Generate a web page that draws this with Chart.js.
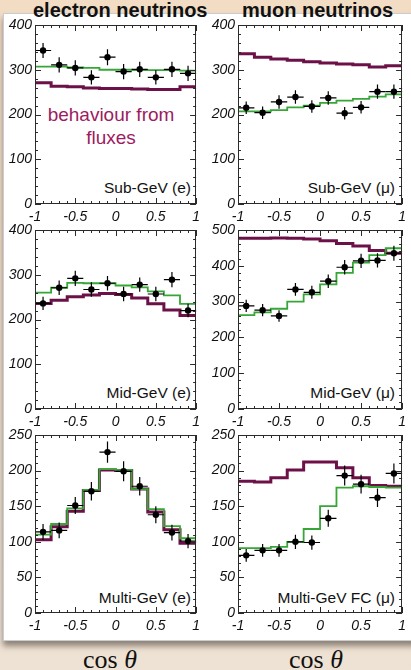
<!DOCTYPE html>
<html><head><meta charset="utf-8">
<script src="https://cdn.jsdelivr.net/npm/chart.js@4.4.1/dist/chart.umd.min.js"></script>
<style>
html,body{margin:0;padding:0;width:411px;height:670px;overflow:hidden;}
body{position:relative;background:linear-gradient(180deg,#f2dcc4 0%,#f1dfcc 60%,#eee2d4 100%);font-family:"Liberation Sans",Arial,sans-serif;}
#card{position:absolute;left:3px;top:13px;width:420px;height:626px;background:#fff;border:1px solid #c8cdd2;box-shadow:0 5px 6px rgba(60,50,40,0.55);}
canvas{position:absolute;}
.t{position:absolute;white-space:nowrap;}
.title{font-weight:bold;font-size:20px;line-height:19px;color:#111;}
.plab{font-size:15.5px;line-height:16px;color:#111;text-align:right;}
.note{font-size:19px;line-height:23px;color:#9c1c5f;text-align:center;width:200px;}
.cos{font-family:"Liberation Serif","DejaVu Serif",serif;font-size:26px;line-height:24px;color:#111;text-align:center;width:100px;}
</style></head>
<body>
<div id="card"></div>
<div class="t title" style="left:33px;top:1px;">electron neutrinos</div>
<div class="t title" style="left:242px;top:1px;">muon neutrinos</div>
<div class="t note" style="left:11px;top:103px;">behaviour from<br>fluxes</div>
<div class="t plab" style="right:220px;top:180px;">Sub-GeV (e)</div>
<div class="t plab" style="right:16px;top:180px;">Sub-GeV (μ)</div>
<div class="t plab" style="right:220px;top:385px;">Mid-GeV (e)</div>
<div class="t plab" style="right:16px;top:385px;">Mid-GeV (μ)</div>
<div class="t plab" style="right:220px;top:590px;">Multi-GeV (e)</div>
<div class="t plab" style="right:16px;top:590px;">Multi-GeV FC (μ)</div>
<div class="t cos" style="left:60px;top:648px;">cos <i>θ</i></div>
<div class="t cos" style="left:266px;top:648px;">cos <i>θ</i></div>
<canvas id="c0"></canvas><canvas id="c1"></canvas><canvas id="c2"></canvas>
<canvas id="c3"></canvas><canvas id="c4"></canvas><canvas id="c5"></canvas>
<script>
// ---- data ----
const cosEdges = [-1, -0.8, -0.6, -0.4, -0.2, 0, 0.2, 0.4, 0.6, 0.8, 1];
const cosCenters = [-0.9, -0.7, -0.5, -0.3, -0.1, 0.1, 0.3, 0.5, 0.7, 0.9];
const xTickValues = [-1, -0.5, 0, 0.5, 1];
const yTicks400 = [0, 100, 200, 300, 400];
const yTicks500 = [0, 100, 200, 300, 400, 500];
const yTicks250 = [0, 50, 100, 150, 200, 250];

const subGeVeData  = [343, 311, 304, 283, 328, 296, 301, 283, 301, 292];
const subGeVeErr   = [17, 17, 17, 16, 18, 17, 17, 16, 17, 17];
const subGeVeOsc   = [307, 307, 305, 304, 300, 300, 299, 299, 299, 298];
const subGeVeFlux  = [271, 263, 262, 259, 258, 258, 257, 256, 256, 262];

const subGeVmuData = [215, 204, 228, 239, 218, 237, 203, 216, 251, 251];
const subGeVmuErr  = [14, 14, 15, 15, 14, 15, 14, 14, 16, 16];
const subGeVmuOsc  = [207, 207, 210, 216, 220, 226, 231, 235, 240, 245];
const subGeVmuFlux = [336, 328, 324, 321, 318, 315, 313, 311, 306, 309];

const midGeVeData  = [236, 271, 292, 267, 281, 257, 278, 257, 289, 220];
const midGeVeErr   = [15, 16, 17, 16, 16, 16, 16, 16, 17, 15];
const midGeVeOsc   = [260, 271, 282, 281, 281, 276, 272, 263, 254, 235];
const midGeVeFlux  = [236, 243, 251, 255, 258, 256, 248, 235, 221, 209];

const midGeVmuData = [288, 276, 260, 334, 326, 357, 396, 414, 415, 435];
const midGeVmuErr  = [17, 17, 16, 18, 18, 19, 20, 20, 20, 21];
const midGeVmuOsc  = [262, 270, 280, 300, 320, 348, 380, 409, 430, 449];
const midGeVmuFlux = [477, 477, 478, 477, 475, 470, 462, 455, 443, 435];

const multiGeVeData  = [114, 116, 151, 171, 226, 199, 178, 138, 113, 101];
const multiGeVeErr   = [11, 11, 12, 13, 15, 14, 13, 12, 11, 10];
const multiGeVeOsc   = [110, 125, 147, 173, 202, 201, 174, 146, 122, 105];
const multiGeVeFlux  = [103, 121, 143, 172, 201, 200, 174, 142, 117, 98];

const multiGeVmuData = [81, 88, 88, 100, 99, 133, 193, 181, 162, 196];
const multiGeVmuErr  = [9, 9, 9, 10, 10, 12, 14, 13, 13, 14];
const multiGeVmuOsc  = [91, 91, 93, 100, 118, 150, 176, 178, 177, 176];
const multiGeVmuFlux = [185, 184, 190, 201, 212, 212, 204, 190, 179, 178];

// ---- layout ----
const cols = [{left:0, width:205, yW:35, padR:5}, {left:205, width:206, yW:33, padR:6}];
const rows = [{top:13, plotTop:25, plotBottom:204}, {top:218, plotTop:230, plotBottom:409}, {top:423, plotTop:435, plotBottom:613}];
const X_AXIS_H = 22;

const panels = [
  {col:0,row:0,data:subGeVeData,err:subGeVeErr,osc:subGeVeOsc,flux:subGeVeFlux,yTicks:yTicks400},
  {col:1,row:0,data:subGeVmuData,err:subGeVmuErr,osc:subGeVmuOsc,flux:subGeVmuFlux,yTicks:yTicks400},
  {col:0,row:1,data:midGeVeData,err:midGeVeErr,osc:midGeVeOsc,flux:midGeVeFlux,yTicks:yTicks400},
  {col:1,row:1,data:midGeVmuData,err:midGeVmuErr,osc:midGeVmuOsc,flux:midGeVmuFlux,yTicks:yTicks500},
  {col:0,row:2,data:multiGeVeData,err:multiGeVeErr,osc:multiGeVeOsc,flux:multiGeVeFlux,yTicks:yTicks250},
  {col:1,row:2,data:multiGeVmuData,err:multiGeVmuErr,osc:multiGeVmuOsc,flux:multiGeVmuFlux,yTicks:yTicks250}
];

const framePlugin = {
  id: 'frameTicks',
  afterDatasetsDraw(chart) {
    const {ctx, chartArea: a, scales: {x, y}} = chart;
    ctx.save();
    chart.data.datasets.forEach(ds => {
      if (!ds.errY) return;
      ctx.strokeStyle = '#000';
      ctx.lineWidth = 1.2;
      ds.data.forEach((p, i) => {
        const px = x.getPixelForValue(p.x), py = y.getPixelForValue(p.y);
        const hw = (cosEdges[i + 1] - cosEdges[i]) / 2;
        ctx.beginPath();
        ctx.moveTo(x.getPixelForValue(p.x - hw), py);
        ctx.lineTo(x.getPixelForValue(p.x + hw), py);
        ctx.moveTo(px, y.getPixelForValue(p.y - ds.errY[i]));
        ctx.lineTo(px, y.getPixelForValue(p.y + ds.errY[i]));
        ctx.stroke();
      });
    });
    ctx.strokeStyle = '#2a2a2a';
    ctx.lineWidth = 1;
    ctx.strokeRect(Math.round(a.left) + 0.5, Math.round(a.top) + 0.5, Math.round(a.right - a.left) - 1, Math.round(a.bottom - a.top) - 1);
    ctx.beginPath();
    const nx = 20;
    for (let i = 0; i <= nx; i++) {
      const v = x.min + (x.max - x.min) * i / nx;
      const px = Math.round(x.getPixelForValue(v)) + 0.5;
      const L = i % 5 === 0 ? 6 : 3;
      ctx.moveTo(px, a.bottom); ctx.lineTo(px, a.bottom - L);
      ctx.moveTo(px, a.top); ctx.lineTo(px, a.top + L);
    }
    const yt = chart.options.plugins.frameTicks.yTicks;
    const step = (yt[1] - yt[0]) / 5;
    const ny = Math.round((y.max - y.min) / step);
    for (let i = 0; i <= ny; i++) {
      const v = y.min + step * i;
      const py = Math.round(y.getPixelForValue(v)) + 0.5;
      const L = i % 5 === 0 ? 6 : 3;
      ctx.moveTo(a.left, py); ctx.lineTo(a.left + L, py);
      ctx.moveTo(a.right, py); ctx.lineTo(a.right - L, py);
    }
    ctx.stroke();
    ctx.restore();
  }
};

const tickFont = {family: '"Liberation Sans", Arial, sans-serif', style: 'italic', size: 14};

panels.forEach((p, idx) => {
  const c = cols[p.col], r = rows[p.row];
  const cv = document.getElementById('c' + idx);
  const h = r.plotBottom - r.top + X_AXIS_H;
  cv.width = c.width; cv.height = h;
  cv.style.left = c.left + 'px'; cv.style.top = r.top + 'px';
  cv.style.width = c.width + 'px'; cv.style.height = h + 'px';
  const stepData = arr => cosEdges.map((x, i) => ({x: x, y: arr[Math.min(i, arr.length - 1)]}));
  new Chart(cv, {
    type: 'line',
    data: {
      datasets: [
        {label: 'data', data: cosCenters.map((x, i) => ({x: x, y: p.data[i]})), errY: p.err,
         showLine: false, pointRadius: 3.2, pointBackgroundColor: '#000', pointBorderColor: '#000', pointBorderWidth: 0, order: 0},
        {label: 'oscillation', data: stepData(p.osc), stepped: 'before', borderColor: '#36a636', borderWidth: 1.8,
         pointRadius: 0, fill: false, order: 1, borderCapStyle: 'butt', borderJoinStyle: 'miter'},
        {label: 'fluxes', data: stepData(p.flux), stepped: 'before', borderColor: '#6c1148', borderWidth: 3,
         pointRadius: 0, fill: false, order: 2, borderCapStyle: 'butt', borderJoinStyle: 'miter'}
      ]
    },
    options: {
      responsive: false, animation: false, devicePixelRatio: 1,
      layout: {padding: {top: r.plotTop - r.top, left: 0, right: c.padR, bottom: 0}},
      plugins: {legend: {display: false}, tooltip: {enabled: false}, frameTicks: {yTicks: p.yTicks}},
      scales: {
        x: {type: 'linear', min: -1, max: 1,
            afterBuildTicks: s => { s.ticks = xTickValues.map(v => ({value: v})); },
            afterFit: s => { s.height = X_AXIS_H; },
            grid: {display: false, drawTicks: false}, border: {display: false},
            ticks: {font: tickFont, color: '#111', padding: 5, maxRotation: 0, autoSkip: false, callback: v => String(v)}},
        y: {type: 'linear', min: p.yTicks[0], max: p.yTicks[p.yTicks.length - 1],
            afterBuildTicks: s => { s.ticks = p.yTicks.map(v => ({value: v})); },
            afterFit: s => { s.width = c.yW; },
            grid: {display: false, drawTicks: false}, border: {display: false},
            ticks: {font: tickFont, color: '#111', padding: 3, autoSkip: false, callback: v => String(v)}}
      }
    },
    plugins: [framePlugin]
  });
});
</script>
</body></html>
